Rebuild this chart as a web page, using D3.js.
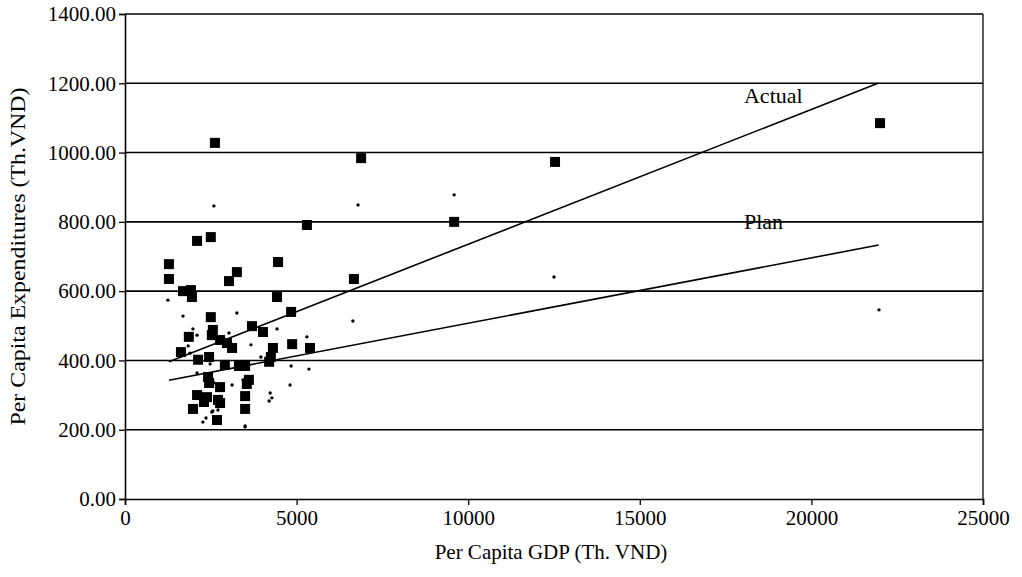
<!DOCTYPE html>
<html>
<head>
<meta charset="utf-8">
<script src="https://cdn.jsdelivr.net/npm/d3@7"></script>
<style>
  body { margin: 0; background: #fff; }
  svg text { font-family: "Liberation Serif", "Times New Roman", serif; fill: #000; }
</style>
</head>
<body>
<div id="chart"></div>
<script>
// actual expenditures (squares): [GDP, expenditure]
const actualPoints = [
  [1280, 678], [1280, 635], [2100, 745], [2500, 756], [2620, 1028], [3260, 655],
  [3030, 629], [1690, 600], [1920, 603], [1950, 583], [2500, 525], [2560, 488],
  [2530, 473], [1860, 468], [2770, 459], [2970, 450], [3120, 436], [1630, 424],
  [2130, 402], [2450, 410], [2910, 387], [3320, 384], [2420, 352], [2450, 335],
  [2770, 323], [2100, 300], [2390, 294], [2300, 280], [2770, 277], [1980, 260],
  [2680, 228], [2710, 286], [5300, 791], [4460, 684], [6670, 635], [4430, 583],
  [4840, 540], [3700, 499], [4020, 482], [4870, 447], [4310, 436], [5390, 436],
  [4250, 410], [4200, 396], [3500, 384], [3610, 344], [3550, 332], [3500, 297],
  [3500, 260], [6880, 984], [12530, 973], [9590, 800], [22000, 1085]
];
// planned expenditures (dots)
const planPoints = [
  [1250, 574], [1690, 528], [3260, 537], [1980, 491], [2100, 473], [3030, 479],
  [1840, 442], [2480, 390], [2590, 335], [3120, 329], [2560, 254], [2270, 222],
  [2360, 234], [3500, 211], [6640, 514], [4430, 491], [3670, 445], [5300, 468],
  [3960, 410], [4840, 384], [5360, 375], [4810, 329], [4230, 306], [4280, 292],
  [4200, 283], [3500, 208], [9590, 878], [12500, 641], [2590, 846], [6790, 849],
  [21970, 546], [1890, 421], [2100, 364], [3440, 344], [2530, 251], [2710, 257]
];
// trend lines
const actualTrend = [[1280, 396], [21960, 1201]];
const planTrend = [[1280, 343], [21960, 733]];
const trendLabels = [
  { text: "Actual", x: 18036, y: 1143 },
  { text: "Plan", x: 18036, y: 779 }
];
const xTicks = [0, 5000, 10000, 15000, 20000, 25000];
const yTicks = [0, 200, 400, 600, 800, 1000, 1200, 1400];

const width = 1022, height = 577;
const margin = { top: 14, right: 39, bottom: 78, left: 125 };
const serif = '"Liberation Serif", "Times New Roman", serif';

const svg = d3.select("#chart").append("svg")
  .attr("width", width)
  .attr("height", height);

const x = d3.scaleLinear().domain([0, 25000]).range([margin.left, width - margin.right]);
const y = d3.scaleLinear().domain([0, 1400]).range([height - margin.bottom, margin.top]);

// gridlines
svg.append("g")
  .selectAll("line")
  .data(yTicks.slice(1))
  .join("line")
    .attr("x1", x(0)).attr("x2", x(25000))
    .attr("y1", d => y(d)).attr("y2", d => y(d))
    .attr("stroke", "#000").attr("stroke-width", 1.6);

// right border
svg.append("line")
  .attr("x1", x(25000)).attr("x2", x(25000))
  .attr("y1", y(0)).attr("y2", y(1400))
  .attr("stroke", "#000").attr("stroke-width", 1.3);

// axes
const xAxis = svg.append("g")
  .attr("transform", `translate(0,${y(0)})`)
  .call(d3.axisBottom(x).tickValues(xTicks).tickFormat(d3.format("d")).tickSize(6).tickPadding(5));
const yAxis = svg.append("g")
  .attr("transform", `translate(${x(0)},0)`)
  .call(d3.axisLeft(y).tickValues(yTicks).tickFormat(d3.format(".2f")).tickSize(6).tickPadding(3));

[xAxis, yAxis].forEach(a => {
  a.attr("font-family", null).attr("font-size", null);
  a.select(".domain").attr("stroke", "#000").attr("stroke-width", 1.6);
  a.selectAll(".tick line").attr("stroke", "#000").attr("stroke-width", 1.3);
  a.selectAll("text")
    .style("font-family", serif)
    .style("font-size", "21px")
    .attr("fill", "#000");
});

// trend lines
const line = d3.line().x(d => x(d[0])).y(d => y(d[1]));
svg.append("path").datum(actualTrend).attr("d", line)
  .attr("fill", "none").attr("stroke", "#000").attr("stroke-width", 1.6);
svg.append("path").datum(planTrend).attr("d", line)
  .attr("fill", "none").attr("stroke", "#000").attr("stroke-width", 1.6);

// plan dots
svg.append("g")
  .selectAll("circle")
  .data(planPoints)
  .join("circle")
    .attr("cx", d => x(d[0]))
    .attr("cy", d => y(d[1]))
    .attr("r", 1.7)
    .attr("fill", "#000");

// actual squares
const sq = 10;
svg.append("g")
  .selectAll("rect")
  .data(actualPoints)
  .join("rect")
    .attr("x", d => x(d[0]) - sq / 2)
    .attr("y", d => y(d[1]) - sq / 2)
    .attr("width", sq)
    .attr("height", sq)
    .attr("fill", "#000");

// line labels
svg.append("g")
  .selectAll("text")
  .data(trendLabels)
  .join("text")
    .attr("x", d => x(d.x))
    .attr("y", d => y(d.y))
    .style("font-size", "22px")
    .text(d => d.text);

// axis titles
svg.append("text")
  .attr("x", (x(0) + x(25000)) / 2 - 3)
  .attr("y", 559)
  .attr("text-anchor", "middle")
  .style("font-size", "21px")
  .text("Per Capita GDP (Th. VND)");

svg.append("text")
  .attr("transform", `translate(25,${(y(0) + y(1400)) / 2}) rotate(-90)`)
  .attr("text-anchor", "middle")
  .attr("textLength", 338)
  .attr("lengthAdjust", "spacingAndGlyphs")
  .style("font-size", "22px")
  .text("Per Capita Expenditures (Th.VND)");
</script>
</body>
</html>
